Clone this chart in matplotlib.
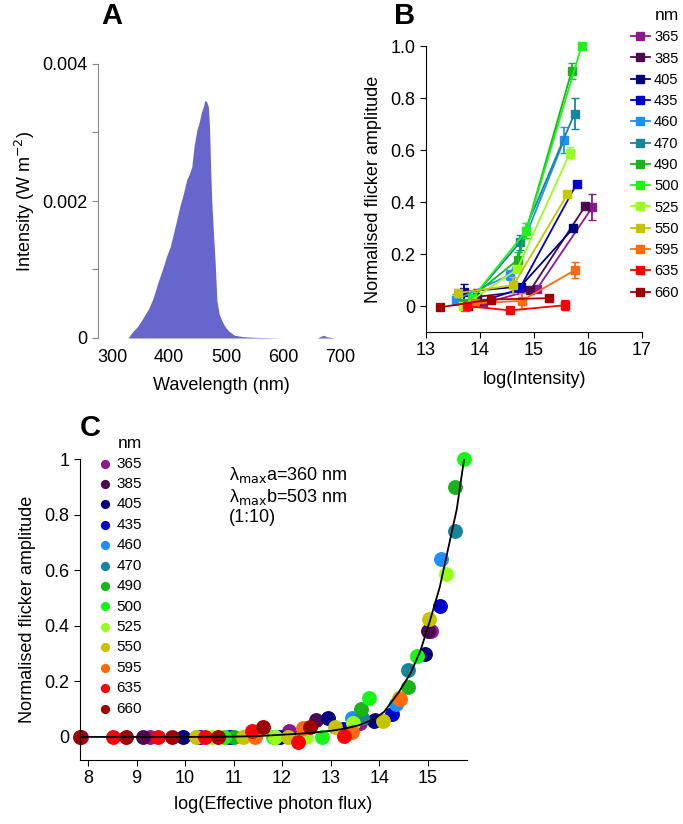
import matplotlib
matplotlib.use("Agg")
import matplotlib.pyplot as plt

plt.rcParams["font.family"] = ["Liberation Sans", "DejaVu Sans"]
plt.rcParams["mathtext.fontset"] = "dejavusans"

# ---- panel A: LED spectrum ----
spec_wl = [328, 335, 345, 355, 365, 372, 381, 390, 396, 402, 410, 419, 425, 431,
           436, 440, 444, 449, 453, 457, 461, 463, 466, 469, 471, 473, 475, 478,
           481, 484, 488, 493, 498, 505, 515, 530, 550, 600, 660, 668, 672, 676, 690]
spec_int = [0.0, 0.00008, 0.00017, 0.0003, 0.00044, 0.00058, 0.00082, 0.00104, 0.0012,
            0.00133, 0.0016, 0.00192, 0.0021, 0.00231, 0.0024, 0.0025, 0.0028, 0.00304,
            0.00315, 0.0033, 0.0034, 0.00347, 0.00345, 0.00338, 0.0031, 0.0025, 0.002,
            0.00153, 0.0011, 0.00055, 0.00035, 0.00025, 0.00017, 0.0001, 0.00004,
            0.00002, 0.00001, 0.0, 0.0, 0.00003, 0.00004, 0.00002, 0.0]

# ---- panel B: flicker amplitude vs log intensity ----
wavelengths = ["365", "385", "405", "435", "460", "470", "490", "500", "525",
               "550", "595", "635", "660"]
colors = ["#8a1a8c", "#4b0a50", "#00007f", "#0000cc", "#1e8fff", "#17869a",
          "#19b419", "#19f519", "#99ff1a", "#c4c400", "#ff6a0d", "#ff0000", "#a00000"]

b_x = [[14.06, 15.06, 16.08], [13.94, 14.93, 15.95], [13.71, 14.75, 15.73],
       [13.77, 14.73, 15.79], [13.56, 14.56, 15.56], [13.72, 14.74, 15.75],
       [13.70, 14.70, 15.70], [13.86, 14.86, 15.88], [13.69, 14.69, 15.67],
       [13.60, 14.62, 15.62], [13.90, 14.77, 15.76], [13.75, 14.56, 15.57],
       [13.26, 14.20, 15.27]]
b_y = [[0.01, 0.067, 0.38], [0.035, 0.06, 0.385], [0.055, 0.075, 0.30],
       [0.0, 0.065, 0.47], [0.025, 0.12, 0.64], [-0.005, 0.245, 0.74],
       [0.01, 0.178, 0.905], [0.03, 0.29, 1.0], [0.0, 0.142, 0.59],
       [0.05, 0.08, 0.43], [0.01, 0.02, 0.138], [0.0, -0.017, 0.003],
       [-0.005, 0.025, 0.03]]
b_err = [[0.01, 0.01, 0.05], [0.03, 0.01, 0.01], [0.03, 0.01, 0.01],
         [0.01, 0.01, 0.01], [0.02, 0.02, 0.05], [0.01, 0.03, 0.06],
         [0.01, 0.03, 0.03], [0.01, 0.03, 0.0], [0.01, 0.01, 0.02],
         [0.015, 0.03, 0.0], [0.01, 0.03, 0.03], [0.0, 0.0, 0.02],
         [0.0, 0.0, 0.0]]

# ---- panel C: flicker amplitude vs effective photon flux ----
c_x = [[7.86, 9.28, 12.15, 13.6, 15.06],
       [9.13, 12.7, 13.92, 15.0],
       [9.95, 10.96, 11.96, 12.94, 13.9, 14.95],
       [10.3, 10.9, 13.25, 14.27, 15.26],
       [13.45, 14.35, 15.28],
       [13.65, 14.6, 15.57],
       [11.0, 13.63, 14.6, 15.57],
       [10.8, 11.82, 12.82, 13.8, 14.78, 15.75],
       [10.55, 11.86, 12.5, 13.47, 15.38],
       [10.23, 11.2, 12.12, 13.1, 14.08, 14.4, 15.03],
       [11.44, 12.44, 13.45, 14.43],
       [8.51, 9.45, 10.42, 11.37, 12.32, 13.28],
       [7.84, 8.78, 9.73, 10.68, 11.6, 12.58]]
c_y = [[0.0, 0.0, 0.02, 0.05, 0.38],
       [0.0, 0.06, 0.06, 0.38],
       [0.0, 0.0, 0.0, 0.068, 0.058, 0.30],
       [0.0, 0.0, 0.03, 0.083, 0.47],
       [0.068, 0.12, 0.64],
       [0.068, 0.24, 0.74],
       [0.0, 0.10, 0.18, 0.90],
       [0.0, 0.0, 0.0, 0.14, 0.29, 1.0],
       [0.0, 0.0, 0.0, 0.05, 0.585],
       [0.0, 0.0, 0.0, 0.035, 0.058, 0.14, 0.425],
       [0.0, 0.032, 0.018, 0.137],
       [0.0, 0.0, 0.0, 0.023, -0.017, 0.005],
       [0.0, 0.0, 0.0, 0.0, 0.037, 0.036]]

fit_x = [7.84, 9.0, 10.0, 11.0, 11.5, 12.0, 12.5, 13.0, 13.3, 13.6, 13.9, 14.1,
         14.4, 14.65, 14.85, 15.05, 15.25, 15.45, 15.6, 15.75]
fit_y = [0.0, 0.0, 0.0, 0.001, 0.003, 0.008, 0.013, 0.022, 0.03, 0.043, 0.065,
         0.09, 0.16, 0.23, 0.31, 0.42, 0.54, 0.70, 0.82, 1.0]

W, H = 683, 824
fig = plt.figure(figsize=(W / 100, H / 100), dpi=100)


def box(x0, y0, x1, y1):
    return [x0 / W, 1 - y1 / H, (x1 - x0) / W, (y1 - y0) / H]


fs = 13

# panel A
axA = fig.add_axes(box(98, 64, 345, 338))
axA.fill_between(spec_wl, spec_int, 0, color="#6666cc", linewidth=0)
axA.set_xlim(275.4, 708.8)
axA.set_ylim(0, 0.004)
axA.spines["top"].set_visible(False)
axA.spines["right"].set_visible(False)
axA.spines["bottom"].set_visible(False)
axA.spines["left"].set_color("#888888")
axA.set_yticks([0, 0.001, 0.002, 0.003, 0.004])
axA.set_yticklabels(["0", "", "0.002", "", "0.004"])
axA.set_xticks([300, 400, 500, 600, 700])
axA.tick_params(axis="x", length=0, pad=8, labelsize=fs)
axA.tick_params(axis="y", length=4, color="#888888", labelsize=fs)
axA.set_xlabel("Wavelength (nm)", fontsize=fs, labelpad=8)
axA.set_ylabel("Intensity (W m$^{-2}$)", fontsize=fs, labelpad=4)
fig.text(112 / W, 1 - 16 / H, "A", fontsize=21, fontweight="bold", ha="center", va="center")

# panel B
axB = fig.add_axes(box(426, 46, 642, 332))
for i, wl in enumerate(wavelengths):
    axB.errorbar(b_x[i], b_y[i], yerr=b_err[i], fmt="none", ecolor=colors[i],
                 capsize=3, elinewidth=1.3, clip_on=False)
    axB.plot(b_x[i], b_y[i], color=colors[i], marker="s", markersize=5.5,
             linewidth=1.3, label=wl, clip_on=False)
axB.set_xlim(13, 17)
axB.set_ylim(-0.1, 1.0)
axB.spines["top"].set_visible(False)
axB.spines["right"].set_visible(False)
axB.set_xticks([13, 14, 15, 16, 17])
axB.set_yticks([0, 0.2, 0.4, 0.6, 0.8, 1.0])
axB.set_yticklabels(["0", "0.2", "0.4", "0.6", "0.8", "1.0"])
axB.tick_params(labelsize=fs, length=4)
axB.set_xlabel("log(Intensity)", fontsize=fs, labelpad=8)
axB.set_ylabel("Normalised flicker amplitude", fontsize=fs, labelpad=6)
legB = axB.legend(loc="upper left", bbox_to_anchor=(0.948, 1.055), frameon=False,
                  fontsize=10.5, handlelength=1.3, handletextpad=0.3,
                  labelspacing=0.5, borderaxespad=0, borderpad=0)
fig.text(667 / W, 1 - 16 / H, "nm", fontsize=12.5, ha="center", va="center")
fig.text(405 / W, 1 - 16 / H, "B", fontsize=21, fontweight="bold", ha="center", va="center")

# panel C
axC = fig.add_axes(box(80, 459, 467, 760))
axC.plot(fit_x, fit_y, color="black", linewidth=1.3, zorder=3)
for i, wl in enumerate(wavelengths):
    axC.scatter(c_x[i], c_y[i], s=115, color=colors[i], linewidths=0,
                label=wl, clip_on=False, zorder=2)
axC.set_xlim(7.835, 15.81)
axC.set_ylim(-0.083, 1.0)
axC.spines["top"].set_visible(False)
axC.spines["right"].set_visible(False)
axC.set_xticks([8, 9, 10, 11, 12, 13, 14, 15])
axC.set_yticks([0, 0.2, 0.4, 0.6, 0.8, 1.0])
axC.set_yticklabels(["0", "0.2", "0.4", "0.6", "0.8", "1"])
axC.tick_params(labelsize=fs, length=4)
axC.set_xlabel("log(Effective photon flux)", fontsize=fs, labelpad=6)
axC.set_ylabel("Normalised flicker amplitude", fontsize=fs, labelpad=6)
legC = axC.legend(loc="upper left", bbox_to_anchor=(0.045, 1.008), frameon=False,
                  fontsize=11, markerscale=0.62, handlelength=1.0,
                  handletextpad=0.25, labelspacing=0.42, borderaxespad=0,
                  borderpad=0)
fig.text(118 / W, 1 - 443 / H, "nm", fontsize=12.5, ha="left", va="center")
axC.text(0.384, 0.98, "λ$_{\\mathrm{max}}$a=360 nm\nλ$_{\\mathrm{max}}$b=503 nm\n(1:10)",
         transform=axC.transAxes, fontsize=13, va="top", ha="left", linespacing=1.15)
fig.text(90 / W, 1 - 428 / H, "C", fontsize=21, fontweight="bold", ha="center", va="center")

fig.savefig("out.png", dpi=100)
